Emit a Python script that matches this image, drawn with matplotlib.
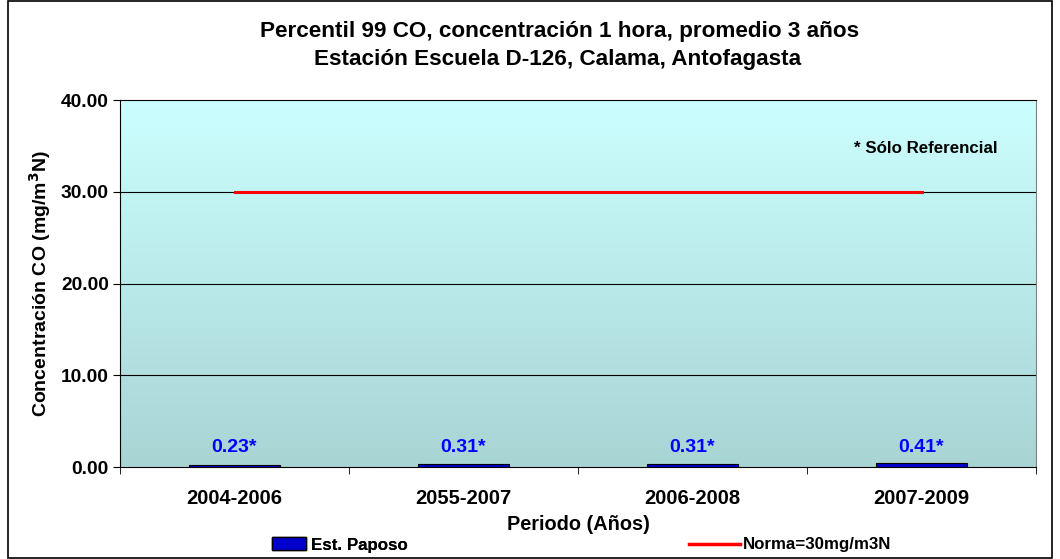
import numpy as np
import matplotlib.pyplot as plt
from matplotlib.colors import LinearSegmentedColormap
from matplotlib.patches import Rectangle
from matplotlib.lines import Line2D
from matplotlib.patches import Patch

plt.rcParams['font.family'] = ['Liberation Sans', 'DejaVu Sans']

# Datos
periodos = ["2004-2006", "2055-2007", "2006-2008", "2007-2009"]
valores = [0.23, 0.31, 0.31, 0.41]
etiquetas = ["0.23*", "0.31*", "0.31*", "0.41*"]
norma = [30, 30, 30, 30]

fig = plt.figure(figsize=(10.6, 5.59), dpi=100)
ax = fig.add_axes([120 / 1060, 1 - 467 / 559, 916 / 1060, 367 / 559])

x = np.arange(len(periodos))

# Fondo degradado del área de trazado
cmap = LinearSegmentedColormap.from_list("fondo", ["#A8D4D4", "#CCFFFF"])
grad = np.linspace(0, 1, 256).reshape(-1, 1)
ax.imshow(grad, extent=[-0.5, len(periodos) - 0.5, 0, 40], origin='lower',
          aspect='auto', cmap=cmap, zorder=0)

ax.bar(x, valores, width=0.4, color='#0000CC', edgecolor='black', linewidth=0.8, zorder=3)
ax.plot(x, norma, color='#FF0000', linewidth=2.2, zorder=4)

for xi, v, t in zip(x, valores, etiquetas):
    ax.text(xi, 1.2, t, ha='center', va='bottom', color='#0000FF',
            fontsize=14, fontweight='bold', zorder=5)

ax.set_xlim(-0.5, len(periodos) - 0.5)
ax.set_ylim(0, 40)
ax.set_yticks([0, 10, 20, 30, 40])
ax.set_yticklabels([f"{v:.2f}" for v in [0, 10, 20, 30, 40]], fontsize=13.8, fontweight='bold')
ax.set_xticks(x)
ax.set_xticklabels(periodos, fontsize=14.5, fontweight='bold')
ax.set_xticks(np.arange(len(periodos) + 1) - 0.5, minor=True)
ax.tick_params(axis='x', which='major', length=0, pad=16)
ax.tick_params(axis='x', which='minor', length=5, direction='out')
ax.tick_params(axis='y', length=5, direction='out', pad=3)

for yv in [10, 20, 30]:
    ax.axhline(yv, color='black', linewidth=0.8, zorder=1)

ax.spines['left'].set_color('black')
ax.spines['bottom'].set_color('black')
ax.spines['top'].set_color('black')
ax.spines['right'].set_color('#808080')

ax.set_xlabel("Periodo (Años)", fontsize=14.3, fontweight='bold', labelpad=5)
ax.set_ylabel("Concentración CO (mg/m$^\\mathbf{3}$N)", fontsize=14, fontweight='bold', labelpad=6)

ax.text(0.958, 0.867, "* Sólo Referencial", transform=ax.transAxes, ha='right', va='center',
        fontsize=12.2, fontweight='bold')

fig.text(560 / 1060, 1 - 32 / 559, "Percentil 99 CO, concentración 1 hora, promedio 3 años",
         ha='center', va='center', fontsize=16.2, fontweight='bold')
fig.text(558 / 1060, 1 - 60 / 559, "Estación Escuela D-126, Calama, Antofagasta",
         ha='center', va='center', fontsize=16.2, fontweight='bold')

handles = [Patch(facecolor='#0000CC', edgecolor='black', label='Est. Paposo'),
           Line2D([0], [0], color='#FF0000', linewidth=2.5, label='Norma=30mg/m3N')]
leg1 = fig.legend(handles=[handles[0]], loc='center', bbox_to_anchor=(340 / 1060, 1 - 545 / 559),
                  frameon=False, prop={'weight': 'bold', 'size': 12.2}, handlelength=2.0,
                  handleheight=0.8, handletextpad=0.3)
fig.legend(handles=[handles[1]], loc='center', bbox_to_anchor=(790 / 1060, 1 - 545 / 559),
           frameon=False, prop={'weight': 'bold', 'size': 12.2}, handlelength=3.0, handletextpad=0.2)
fig.add_artist(leg1)

# Borde exterior
fig.add_artist(Rectangle((8 / 1060, 1 / 559), 1044 / 1060, 557 / 559, transform=fig.transFigure,
                         fill=False, edgecolor='black', linewidth=1.2))

fig.savefig("out.png", dpi=100)
